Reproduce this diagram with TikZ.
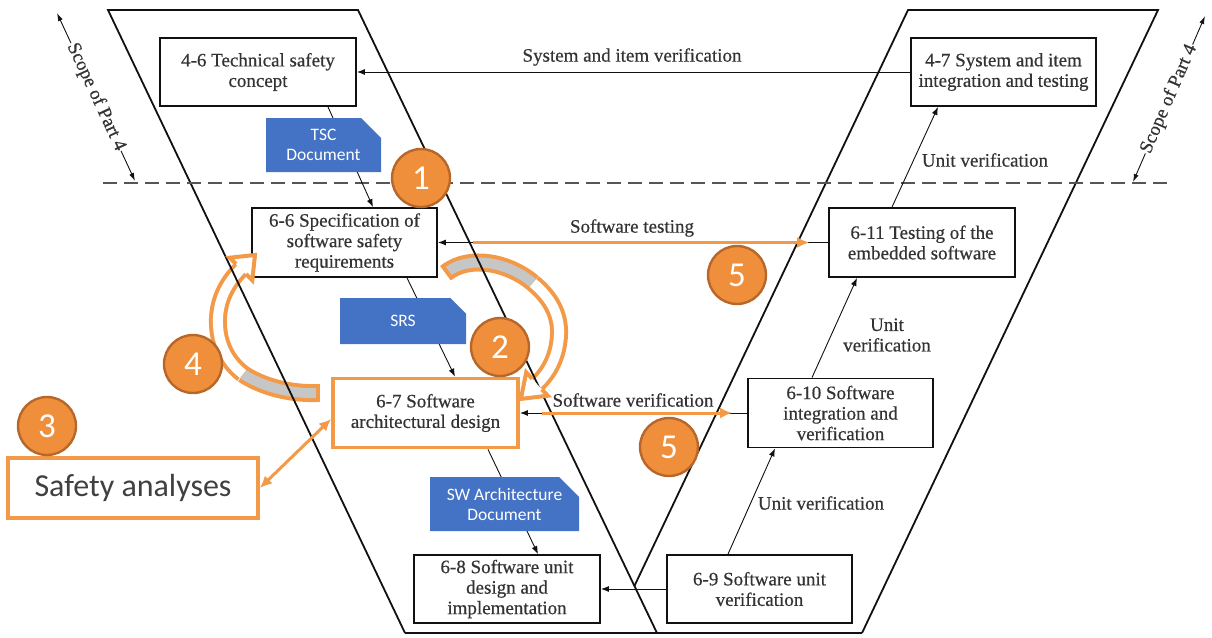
\documentclass[tikz,border=0pt]{standalone}
\usepackage{fontspec}
\setmainfont{Liberation Serif}
\newfontfamily\boxfont{Liberation Serif}[FakeBold=0.5]
\newfontfamily\calfont{Carlito}
\usetikzlibrary{arrows.meta,calc,shapes.misc}
\definecolor{vline}{HTML}{111111}
\definecolor{txt}{HTML}{333333}
\definecolor{org}{HTML}{F29A48}
\definecolor{orgfill}{HTML}{EF8F3B}
\definecolor{orgdark}{HTML}{B8672A}
\definecolor{docblue}{HTML}{4472C4}
\definecolor{bandgray}{HTML}{C6C6C6}
\definecolor{dashgray}{HTML}{555555}
\definecolor{safetxt}{HTML}{404040}
\begin{document}
\begin{tikzpicture}[x=1pt,y=-1pt,
  box/.style={draw=vline, line width=1.8pt, fill=white, align=center, inner sep=2pt,
    minimum width=185pt, minimum height=68pt, text=txt,
    font=\boxfont\fontsize{19}{20.5}\selectfont},
  lbl/.style={text=txt, align=center, font=\boxfont\fontsize{19}{20.5}\selectfont},
  conn/.style={draw=vline, line width=0.9pt, -{Latex[length=8pt,width=6pt]}},
  vshape/.style={draw=vline, line width=1.8pt},
  docbox/.style={chamfered rectangle, chamfered rectangle corners=north east,
    chamfered rectangle xsep=10pt, chamfered rectangle ysep=10pt,
    fill=docblue, text=white, align=center, inner sep=0pt,
    font=\calfont\fontsize{17.5}{20}\selectfont},
  numc/.style={circle, fill=orgfill, draw=orgdark, line width=2.4pt, minimum size=58pt,
    inner sep=0pt, text=white, font=\calfont\fontsize{35}{35}\selectfont},
  band/.style={draw=org, line width=4pt, double distance=10pt},
  headline/.style={draw=org, line width=4pt, line join=miter},
  orgarrow/.style={draw=org, line width=3pt, -{Latex[length=12pt,width=11pt]}},
  scopearr/.style={draw=vline, line width=0.9pt, {Latex[length=8pt,width=5pt]}-{Latex[length=8pt,width=5pt]}}
]
\useasboundingbox (0,0) rectangle (1212,637);

% ---------- curved block arrows: shafts (under everything) ----------
\coordinate (a4t) at (318,393);
\coordinate (a4g) at (243,374);
\coordinate (a4b) at (241,269);
\coordinate (a2t) at (447,272);
\coordinate (a2g) at (533,283);
\coordinate (a2b) at (537,384);

\draw[band, double=bandgray] (a4t) .. controls (290,394) and (263,387) .. (a4g);
\draw[band, double=white] (a4g) .. controls (225,360) and (217,340) .. (218,318)
   .. controls (219,298) and (228,282) .. (a4b);
\draw[org, line width=4pt] (318,384) -- (318,402);

\draw[band, double=bandgray] (a2t) .. controls (470,255) and (508,262) .. (a2g);
\draw[band, double=white] (a2g) .. controls (551,298) and (560,315) .. (559,335)
   .. controls (558,355) and (550,372) .. (a2b);
\draw[org, line width=4pt] (441.7,264.8) -- (452.3,279.2);

% ---------- V shape ----------
\draw[vshape] (405,633) -- (108,10) -- (358,10) -- (657,633);
\draw[vshape] (634.4,586) -- (908,10) -- (1158,10) -- (862,633);
\draw[vshape] (405,633) -- (862,633);

% dashed scope line
\draw[dashgray, line width=1.6pt, dash pattern=on 14pt off 7pt] (103,183) -- (1168,183);

% scope labels
\coordinate (sl1) at (57,13);
\coordinate (sl2) at (135,181);
\draw[scopearr] (sl1) -- node[sloped, fill=white, inner sep=1pt, lbl] {Scope of Part 4} (sl2);
\coordinate (sr1) at (1133,182);
\coordinate (sr2) at (1205,16);
\draw[scopearr] (sr1) -- node[sloped, fill=white, inner sep=1pt, lbl] {Scope of Part 4} (sr2);

% ---------- boxes ----------
\node[box, minimum width=196pt] (tsc46) at (258,72) {4-6 Technical safety\\concept};
\node[box] (sys47) at (1003.5,72) {4-7 System and item\\integration and testing};
\node[box, minimum height=69pt] (ssr66) at (344.5,242.5) {6-6 Specification of\\software safety\\requirements};
\node[box, minimum height=69pt, minimum width=186pt] (test611) at (922,242.5) {6-11 Testing of the\\embedded software};
\node[box, draw=org, line width=3.8pt, minimum height=69pt] (arch67) at (425.5,413) {6-7 Software\\architectural design};
\node[box, minimum height=69pt] (int610) at (840.5,413) {6-10 Software\\integration and\\verification};
\node[box, minimum width=186pt] (unit68) at (507,589) {6-8 Software unit\\design and\\implementation};
\node[box] (ver69) at (759.5,589) {6-9 Software unit\\verification};
\node[draw=org, line width=3.8pt, fill=white, minimum width=250pt, minimum height=60pt,
  text=safetxt, font=\calfont\fontsize{32}{32}\selectfont] (safety) at (133,488) {Safety analyses};

% ---------- curved block arrows: heads (over the boxes) ----------
\fill[white] (229.7,257.7) -- (255,255) -- (252.3,280.3) -- cycle;
\draw[headline] (235.9,263.9) -- (229.7,257.7) -- (255,255) -- (252.3,280.3) -- (246.1,274.1);
\fill[white] (526.2,372.3) -- (520.9,398.9) -- (547.8,395.7) -- cycle;
\draw[headline] (532.1,378.7) -- (526.2,372.3) -- (520.9,398.9) -- (547.8,395.7) -- (541.9,389.3);

% ---------- connectors ----------
\draw[conn] ([xshift=70pt]tsc46.south) -- ([xshift=28.5pt]ssr66.north);
\draw[conn] ([xshift=62.5pt]ssr66.south) -- ([xshift=29.5pt]arch67.north);
\draw[conn] ([xshift=62.5pt]arch67.south) -- ([xshift=31pt]unit68.north);
\draw[conn] (ver69.west) -- (unit68.east);
\draw[conn] ([xshift=-31.5pt]ver69.north) -- ([xshift=-65.5pt]int610.south);
\draw[conn] ([xshift=-28.5pt]int610.north) -- ([xshift=-65pt]test611.south);
\draw[conn] ([xshift=-30pt]test611.north) -- ([xshift=-65.5pt]sys47.south);
\draw[conn] (sys47.west) -- (tsc46.east);
\draw[conn] (test611.west) -- (ssr66.east);
\draw[conn] (int610.west) -- (arch67.east);

% labels
\node[lbl] (lsys) at (632,57) {System and item verification};
\node[lbl] (lu1) at (985,160) {Unit verification};
\node[lbl] (ltest) at (632,228) {Software testing};
\node[lbl] (lu2) at (887,335) {Unit\\verification};
\node[lbl] (lver) at (633,400) {Software verification};
\node[lbl] (lu3) at (821,503) {Unit verification};

% ---------- documents ----------
\node[docbox, minimum width=115pt, minimum height=54pt] (tscdoc) at (323.5,145) {TSC\\Document};
\node[docbox, minimum width=126pt, minimum height=46pt] (srs) at (403,321) {SRS};
\node[docbox, minimum width=149pt, minimum height=54pt] (swdoc) at (504.5,504) {SW Architecture\\Document};

% ---------- orange arrows ----------
\draw[orgarrow] ([xshift=35pt]ssr66.east) -- ([xshift=-19pt]test611.west);
\draw[orgarrow] ([xshift=22pt]arch67.east) -- ([xshift=-15pt]int610.west);
\draw[draw=org, line width=3pt, {Latex[length=12pt,width=11pt]}-{Latex[length=12pt,width=11pt]}]
  (safety.east) -- ([yshift=-6pt]arch67.west);

% ---------- numbered circles ----------
\node[numc] (n1) at (421,178) {1};
\node[numc] (n2) at (500,347) {2};
\node[numc] (n3) at (47,426) {3};
\node[numc] (n4) at (193,364) {4};
\node[numc] (n5a) at (737,275) {5};
\node[numc] (n5b) at (669,447) {5};
\end{tikzpicture}
\end{document}
